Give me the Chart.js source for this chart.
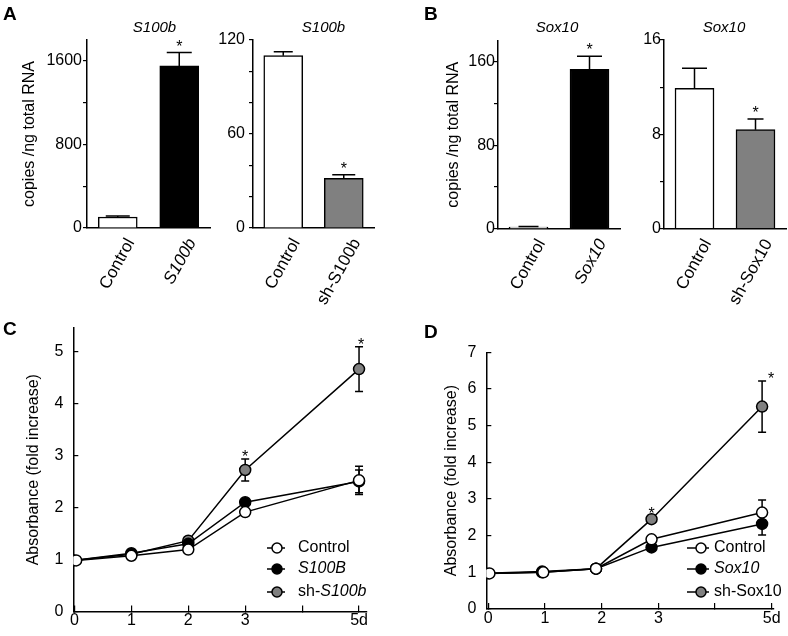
<!DOCTYPE html>
<html>
<head>
<meta charset="utf-8">
<script src="https://cdn.jsdelivr.net/npm/chart.js@4/dist/chart.umd.min.js"></script>
<style>
body { margin: 0; background: #fff; }
#wrap { position: relative; width: 788px; height: 636px; }
canvas { position: absolute; left: 0; top: 0; }
</style>
</head>
<body>
<div id="wrap">
  <canvas id="a1" width="788" height="636"></canvas>
  <canvas id="a2" width="788" height="636"></canvas>
  <canvas id="b1" width="788" height="636"></canvas>
  <canvas id="b2" width="788" height="636"></canvas>
  <canvas id="c" width="788" height="636"></canvas>
  <canvas id="d" width="788" height="636"></canvas>
</div>
<script>
const FONT = "'Liberation Sans', Arial, sans-serif";
Chart.defaults.font.family = FONT;
Chart.defaults.color = '#000';

// A - S100b copies
const aCatsUp = ['Control', 'S100b'];
const aValsUp = [105, 1552];
const aErrsUp = [10, 128];
const aCatsDown = ['Control', 'sh-S100b'];
const aValsDown = [110, 31.7];
const aErrsDown = [2.5, 2.3];

// B - Sox10 copies
const bCatsUp = ['Control', 'Sox10'];
const bValsUp = [1.5, 152.6];
const bErrsUp = [0.6, 12.4];
const bCatsDown = ['Control', 'sh-Sox10'];
const bValsDown = [11.9, 8.4];
const bErrsDown = [1.7, 0.9];

// bar y ticks
const aTicksUp = [0, 400, 800, 1200, 1600];
const aLabelsUp = [0, 800, 1600];
const aTicksDown = [0, 20, 40, 60, 80, 100, 120];
const aLabelsDown = [0, 60, 120];
const bTicksUp = [0, 40, 80, 120, 160];
const bLabelsUp = [0, 80, 160];
const bTicksDown = [0, 4, 8, 12, 16];
const bLabelsDown = [0, 8, 16];

// C - growth, S100b
const cControlDays = [0.03, 1, 2, 3, 5];
const cControl = [0.98, 1.07, 1.19, 1.91, 2.52];
const cControlErr = [0.02, 0.03, 0.03, 0.04, 0.27];
const cS100BDays = [-0.03, 1, 2, 3, 5];
const cS100B = [0.98, 1.12, 1.30, 2.10, 2.50];
const cS100BErr = [0.02, 0.03, 0.03, 0.04, 0.22];
const cShDays = [-0.03, 1, 2, 3, 5];
const cSh = [0.98, 1.10, 1.36, 2.72, 4.66];
const cShErr = [0.02, 0.03, 0.03, 0.21, 0.43];
const cXTicks = [0, 1, 2, 3, 4, 5];
const cXLabels = ['0', '1', '2', '3', '', '5d'];
const cYTicks = [0, 1, 2, 3, 4, 5];

// D - growth, Sox10
const dControlDays = [0.02, 0.97, 1.9, 2.88, 4.83];
const dControl = [0.97, 1.0, 1.1, 1.9, 2.63];
const dControlErr = [0.02, 0.03, 0.03, 0.05, 0.34];
const dSox10Days = [-0.07, 0.95, 1.9, 2.88, 4.83];
const dSox10 = [0.97, 1.0, 1.1, 1.68, 2.32];
const dSox10Err = [0.02, 0.03, 0.03, 0.05, 0.3];
const dShDays = [-0.07, 0.95, 1.9, 2.88, 4.83];
const dSh = [0.97, 1.02, 1.1, 2.45, 5.52];
const dShErr = [0.02, 0.03, 0.03, 0.08, 0.7];
const dXTicks = [0, 1, 2, 3, 4, 5];
const dXLabels = ['0', '1', '2', '3', '', '5d'];
const dYTicks = [0, 1, 2, 3, 4, 5, 6, 7];

const GRAY = '#808080';

const barExtras = {
  id: 'extras',
  afterDatasetsDraw(chart, args, o) {
    const ctx = chart.ctx, y = chart.scales.y, ca = chart.chartArea;
    const vals = chart.data.datasets[0].data;
    ctx.save();
    ctx.strokeStyle = '#000';
    ctx.fillStyle = '#000';
    ctx.lineWidth = 1.5;
    chart.getDatasetMeta(0).data.forEach((bar, i) => {
      const y0 = y.getPixelForValue(vals[i]);
      const y1 = y.getPixelForValue(vals[i] + o.errs[i]);
      const cw = o.capW[i] / 2;
      ctx.beginPath();
      ctx.moveTo(bar.x, y0);
      ctx.lineTo(bar.x, y1);
      ctx.moveTo(bar.x - cw, y1);
      ctx.lineTo(bar.x + cw, y1);
      ctx.stroke();
      if (o.stars[i]) {
        ctx.font = '16px ' + FONT;
        ctx.textAlign = 'center';
        ctx.textBaseline = 'alphabetic';
        ctx.fillText('*', bar.x, y1 - 1);
      }
    });
    ctx.font = 'italic 15px ' + FONT;
    ctx.textAlign = 'center';
    ctx.textBaseline = 'middle';
    ctx.fillText(o.title, (ca.left + ca.right) / 2 + o.titleDx, 28);
    if (o.letter) {
      ctx.font = 'bold 19px ' + FONT;
      ctx.textAlign = 'left';
      ctx.textBaseline = 'alphabetic';
      ctx.fillText(o.letter, o.letterX, o.letterY);
    }
    ctx.restore();
  }
};

function barChart(id, o) {
  const yAxisW = o.box.l - o.padLeft;
  return new Chart(document.getElementById(id), {
    type: 'bar',
    data: {
      labels: o.cats,
      datasets: [{
        data: o.vals,
        backgroundColor: o.colors,
        borderColor: '#000',
        borderWidth: 1.5,
        barThickness: 39
      }]
    },
    options: {
      responsive: false,
      animation: false,
      events: [],
      layout: { padding: { left: o.padLeft, top: o.box.t, right: 788 - o.box.r, bottom: 636 - o.box.b - 80 } },
      plugins: {
        legend: { display: false },
        tooltip: { enabled: false },
        extras: o.extras
      },
      scales: {
        x: {
          grid: { display: false, drawTicks: false },
          border: { color: '#000', width: 1.5 },
          ticks: {
            minRotation: 61, maxRotation: 61, padding: 7, labelOffset: 13,
            font: c => ({ size: 17, style: o.italic[c.index] ? 'italic' : 'normal' })
          },
          afterFit: s => { s.height = 80; }
        },
        y: {
          min: 0, max: o.max,
          grid: { drawOnChartArea: false, tickLength: 4, color: '#000', lineWidth: 1.2 },
          border: { color: '#000', width: 1.5 },
          ticks: { padding: o.tickPad, font: { size: 16 }, callback: v => o.labels.includes(v) ? v : '' },
          title: { display: !!o.yTitle, text: o.yTitle, font: { size: 16 }, padding: { top: o.titleOff - 9.6, bottom: 0 } },
          afterBuildTicks: s => { s.ticks = o.ticks.map(v => ({ value: v })); },
          afterFit: s => { s.width = yAxisW; }
        }
      }
    },
    plugins: [barExtras]
  });
}

barChart('a1', {
  cats: aCatsUp, vals: aValsUp, colors: ['#fff', '#000'], italic: [false, true],
  box: { l: 87, t: 40, r: 210, b: 228 }, padLeft: 0, max: 1800,
  ticks: aTicksUp, labels: aLabelsUp, tickPad: 1,
  yTitle: 'copies /ng total RNA', titleOff: 30,
  extras: { errs: aErrsUp, capW: [24, 25], stars: [false, true], title: 'S100b', titleDx: 6, letter: 'A', letterX: 3, letterY: 20 }
});
barChart('a2', {
  cats: aCatsDown, vals: aValsDown, colors: ['#fff', GRAY], italic: [false, false],
  box: { l: 253, t: 40, r: 374, b: 228 }, padLeft: 0, max: 120,
  ticks: aTicksDown, labels: aLabelsDown, tickPad: 4,
  extras: { errs: aErrsDown, capW: [19, 23], stars: [false, true], title: 'S100b', titleDx: 10 }
});
barChart('b1', {
  cats: bCatsUp, vals: bValsUp, colors: ['#fff', '#000'], italic: [false, true],
  box: { l: 498, t: 40.7, r: 620, b: 228.7 }, padLeft: 394, max: 180,
  ticks: bTicksUp, labels: bLabelsUp, tickPad: -1,
  yTitle: 'copies /ng total RNA', titleOff: 60,
  extras: { errs: bErrsUp, capW: [20, 25], stars: [false, true], title: 'Sox10', titleDx: -2, letter: 'B', letterX: 424, letterY: 20 }
});
barChart('b2', {
  cats: bCatsDown, vals: bValsDown, colors: ['#fff', GRAY], italic: [false, false],
  box: { l: 664, t: 40, r: 786, b: 228.7 }, padLeft: 0, max: 16,
  ticks: bTicksDown, labels: bLabelsDown, tickPad: -1,
  extras: { errs: bErrsDown, capW: [25, 16], stars: [false, true], title: 'Sox10', titleDx: -1 }
});

const lineExtras = {
  id: 'extras',
  beforeDatasetsDraw(chart, args, o) {
    const ctx = chart.ctx, y = chart.scales.y, x = chart.scales.x;
    ctx.save();
    ctx.strokeStyle = '#000';
    ctx.lineWidth = 1.5;
    chart.data.datasets.forEach((ds, k) => {
      ds.data.forEach((p, i) => {
        const err = o.errs[k][i];
        const px = x.getPixelForValue(p.x);
        const yt = y.getPixelForValue(p.y + err), yb = y.getPixelForValue(p.y - err);
        if (yb - yt < 11) return;
        ctx.beginPath();
        ctx.moveTo(px, yt); ctx.lineTo(px, yb);
        ctx.moveTo(px - 4, yt); ctx.lineTo(px + 4, yt);
        ctx.moveTo(px - 4, yb); ctx.lineTo(px + 4, yb);
        ctx.stroke();
      });
    });
    ctx.restore();
  },
  afterDatasetsDraw(chart, args, o) {
    const ctx = chart.ctx, y = chart.scales.y, x = chart.scales.x;
    ctx.save();
    ctx.fillStyle = '#000';
    ctx.font = '16px ' + FONT;
    ctx.textAlign = 'center';
    ctx.textBaseline = 'alphabetic';
    o.stars.forEach(([k, i, dx]) => {
      const p = chart.data.datasets[k].data[i];
      ctx.fillText('*', x.getPixelForValue(p.x) + dx, y.getPixelForValue(p.y + o.errs[k][i]) + 3);
    });
    // legend
    const L = o.legend;
    chart.data.datasets.forEach((ds, k) => {
      const ly = L.ys[k];
      ctx.strokeStyle = '#000';
      ctx.lineWidth = 1.5;
      ctx.beginPath();
      ctx.moveTo(L.x0, ly); ctx.lineTo(L.x1, ly);
      ctx.stroke();
      ctx.beginPath();
      ctx.arc(L.cx, ly, 5, 0, Math.PI * 2);
      ctx.fillStyle = ds.pointBackgroundColor;
      ctx.fill();
      ctx.stroke();
      ctx.fillStyle = '#000';
      ctx.textAlign = 'left';
      ctx.textBaseline = 'middle';
      let tx = L.tx;
      L.parts[k].forEach(([txt, it]) => {
        ctx.font = (it ? 'italic ' : '') + '16px ' + FONT;
        ctx.fillText(txt, tx, ly);
        tx += ctx.measureText(txt).width;
      });
    });
    ctx.font = 'bold 19px ' + FONT;
    ctx.textAlign = 'left';
    ctx.textBaseline = 'alphabetic';
    ctx.fillText(o.letter, o.letterX, o.letterY);
    ctx.restore();
  }
};

function lineChart(id, o) {
  const yAxisW = o.box.l - o.padLeft;
  return new Chart(document.getElementById(id), {
    type: 'line',
    data: {
      datasets: o.series.map(s => ({
        label: s.label,
        data: s.days.map((d, i) => ({ x: d, y: s.vals[i] })),
        borderColor: '#000',
        borderWidth: 1.5,
        backgroundColor: s.fill,
        pointBackgroundColor: s.fill,
        pointBorderColor: '#000',
        pointBorderWidth: 1.5,
        pointRadius: 5.5,
        tension: 0
      }))
    },
    options: {
      responsive: false,
      animation: false,
      events: [],
      layout: { padding: { left: o.padLeft, top: o.box.t, right: 788 - o.box.r, bottom: 636 - o.box.b - 20 } },
      plugins: {
        legend: { display: false },
        tooltip: { enabled: false },
        extras: o.extras
      },
      scales: {
        x: {
          type: 'linear', min: o.xMin, max: o.xMax,
          grid: { drawOnChartArea: false, tickLength: -6, color: '#000', lineWidth: 1.2 },
          border: { color: '#000', width: 1.5 },
          ticks: { padding: 6, font: { size: 16 }, callback: (v, i) => o.xLabels[i] },
          afterBuildTicks: s => { s.ticks = o.xTicks.map(v => ({ value: v })); },
          afterFit: s => { s.height = 20; }
        },
        y: {
          min: 0, max: o.yMax,
          grid: { drawOnChartArea: false, tickLength: -5, color: '#000', lineWidth: 1.2 },
          border: { color: '#000', width: 1.5 },
          ticks: { padding: 15, font: { size: 16 } },
          title: { display: true, text: 'Absorbance (fold increase)', font: { size: 16 }, padding: { top: o.titleOff - 9.6, bottom: 0 } },
          afterBuildTicks: s => { s.ticks = o.yTicks.map(v => ({ value: v })); },
          afterFit: s => { s.width = yAxisW; }
        }
      }
    },
    plugins: [lineExtras]
  });
}

lineChart('c', {
  series: [
    { label: 'Control', days: cControlDays, vals: cControl, fill: '#fff' },
    { label: 'S100B', days: cS100BDays, vals: cS100B, fill: '#000' },
    { label: 'sh-S100b', days: cShDays, vals: cSh, fill: GRAY }
  ],
  box: { l: 73.3, t: 328, r: 367, b: 611.7 }, padLeft: 0, titleOff: 34,
  xMin: -0.02, xMax: 5.14, yMax: 5.45, xTicks: cXTicks, xLabels: cXLabels, yTicks: cYTicks,
  extras: {
    errs: [cControlErr, cS100BErr, cShErr],
    stars: [[2, 3, 0], [2, 4, 2]],
    legend: { x0: 267, x1: 285, cx: 277, tx: 298, ys: [548, 569, 592],
      parts: [[['Control', false]], [['S100B', true]], [['sh-', false], ['S100b', true]]] },
    letter: 'C', letterX: 3, letterY: 335
  }
});

lineChart('d', {
  series: [
    { label: 'Control', days: dControlDays, vals: dControl, fill: '#fff' },
    { label: 'Sox10', days: dSox10Days, vals: dSox10, fill: '#000' },
    { label: 'sh-Sox10', days: dShDays, vals: dSh, fill: GRAY }
  ],
  box: { l: 486.3, t: 352.3, r: 774, b: 609 }, padLeft: 394, titleOff: 57.5,
  xMin: -0.035, xMax: 5.04, yMax: 7, xTicks: dXTicks, xLabels: dXLabels, yTicks: dYTicks,
  extras: {
    errs: [dControlErr, dSox10Err, dShErr],
    stars: [[2, 3, 0], [2, 4, 9]],
    legend: { x0: 687, x1: 709, cx: 701, tx: 714, ys: [548, 569, 592],
      parts: [[['Control', false]], [['Sox10', true]], [['sh-Sox10', false]]] },
    letter: 'D', letterX: 424, letterY: 338
  }
});
</script>
</body>
</html>
